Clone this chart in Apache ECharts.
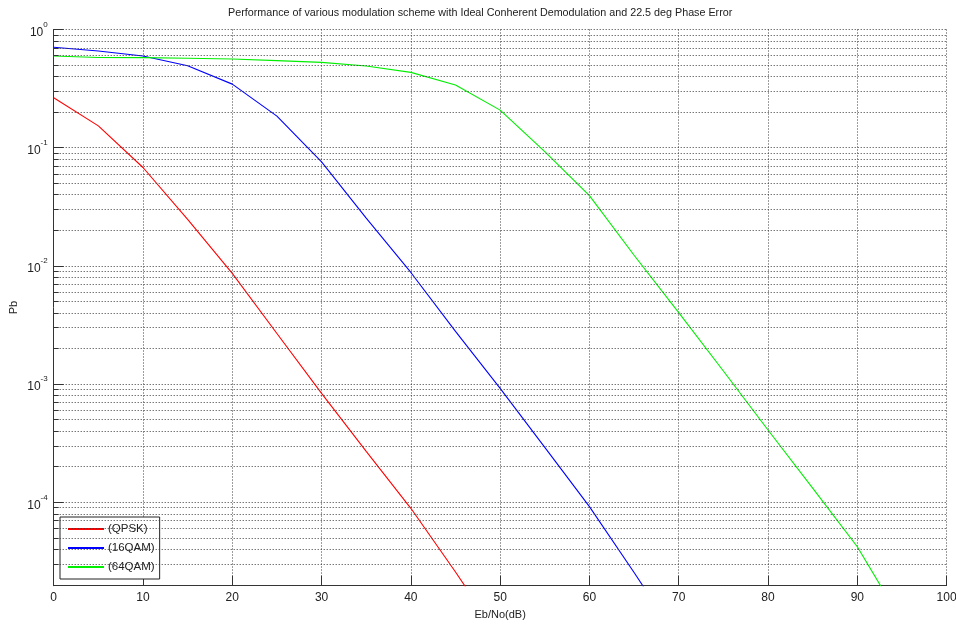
<!DOCTYPE html>
<html><head><meta charset="utf-8">
<script src="https://cdn.jsdelivr.net/npm/echarts@6/dist/echarts.min.js"></script>
<style>html,body{margin:0;padding:0;background:#fff}#c{width:956px;height:626px}</style>
</head><body><div id="c"></div>
<script>
const titleText = 'Performance of various modulation scheme with Ideal Conherent Demodulation and 22.5 deg Phase Error';
const ebno = [0,5,10,15,20,25,30,35,40,45,50,55,60,65,70,75,80,85,90,95];
const qpsk = [0.265, 0.153, 0.068, 0.0248, 0.00865, 0.00268, 0.000836, 0.00027, 0.000089, 0.0000257, 0.0000071];
const qam16 = [0.707, 0.658, 0.597, 0.494, 0.345, 0.185, 0.076, 0.0254, 0.0088, 0.00279, 0.00092, 0.000292, 0.000092, 0.0000255, 0.0000068];
const qam64 = [0.597, 0.58, 0.578, 0.572, 0.563, 0.545, 0.527, 0.491, 0.434, 0.339, 0.208, 0.0925, 0.0393, 0.0123, 0.00402, 0.00129, 0.000409, 0.000132, 0.0000421, 0.0000098];
const seriesNames = ['(QPSK)', '(16QAM)', '(64QAM)'];
const seriesColors = ['#ff0000', '#0000ff', '#00ee00'];
const xTicks = [0,10,20,30,40,50,60,70,80,90,100];
const yMin = 1.97e-5, yMax = 1;
const decades = [-5,-4,-3,-2,-1];
const mantissas = [2,3,4,5,6,7,8,9];

const FONT = 'Liberation Sans, Arial, sans-serif';
const minorVals = [];
decades.forEach(d => mantissas.forEach(m => {
  const v = m * Math.pow(10, d);
  if (v > yMin && v < yMax) minorVals.push(v);
}));

function pairs(vals) { return vals.map((v, i) => [ebno[i], v]); }

const chart = echarts.init(document.getElementById('c'), null, {renderer: 'canvas'});
const dotted = {color: '#3a3a3a', width: 1, type: [1, 2]};

chart.setOption({
  animation: false,
  backgroundColor: '#fff',
  textStyle: {fontFamily: FONT},
  title: {
    text: titleText, left: 228, top: 8, padding: 0,
    textStyle: {fontSize: 10.75, fontWeight: 'normal', color: '#222', fontFamily: FONT}
  },
  grid: {left: 53.7, right: 9.4, top: 29.5, bottom: 40.3, containLabel: false, outerBoundsMode: 'none'},
  legend: {
    orient: 'vertical', left: 60, top: 517, itemWidth: 36, itemHeight: 14, itemGap: 7,
    padding: [6, 5, 6, 7], borderColor: '#222', borderWidth: 1, backgroundColor: '#fff',
    selectedMode: false,
    itemStyle: {opacity: 0},
    textStyle: {fontSize: 11.5, color: '#222', fontFamily: FONT, padding: [0, 0, 0, -1]},
    data: seriesNames
  },
  xAxis: {
    type: 'value', min: 0, max: 100, interval: 10,
    name: 'Eb/No(dB)', nameLocation: 'middle', nameGap: 24, nameMoveOverlap: false,
    nameTextStyle: {fontSize: 11, color: '#222', fontFamily: FONT},
    axisLine: {lineStyle: {color: '#333', width: 1}},
    axisTick: {inside: true, length: 10, lineStyle: {color: '#333'}},
    axisLabel: {fontSize: 12, color: '#222', margin: 6, fontFamily: FONT,
      formatter: v => xTicks.includes(v) ? String(v) : ''},
    splitLine: {show: true, lineStyle: dotted}
  },
  yAxis: {
    type: 'log', logBase: 10, min: yMin, max: yMax,
    name: 'Pb', nameLocation: 'middle', nameGap: 34, nameRotate: 90, nameMoveOverlap: false,
    nameTextStyle: {fontSize: 11, color: '#222', fontFamily: FONT},
    axisLine: {show: true, lineStyle: {color: '#333', width: 1}},
    axisTick: {show: true, inside: true, length: 10, lineStyle: {color: '#333'}},
    axisLabel: {
      margin: 6, color: '#222', fontFamily: FONT,
      formatter: function (v) {
        const l = Math.log10(v), e = Math.round(l);
        if (Math.abs(l - e) > 1e-6) return '';
        return '{b|10}{s|' + e + '}';
      },
      rich: {
        b: {fontSize: 12, color: '#222', lineHeight: 18, verticalAlign: 'bottom', fontFamily: FONT},
        s: {fontSize: 8, color: '#222', lineHeight: 18, verticalAlign: 'top', fontFamily: FONT}
      }
    },
    splitLine: {show: true, lineStyle: dotted}
  },
  series: [
    {
      name: '_grid', type: 'line', data: [], silent: true, z: 1,
      markLine: {
        silent: true, symbol: 'none', animation: false,
        label: {show: false},
        emphasis: {disabled: true},
        data: minorVals.map(v => [
            {coord: [0, v], lineStyle: dotted},
            {coord: [100, v]}
          ])
          .concat(minorVals.map(v => [
            {coord: [0, v], lineStyle: {color: '#333', width: 1, type: 'solid'}},
            {coord: [0.56, v]}
          ]))
      }
    },
    ...[qpsk, qam16, qam64].map((vals, i) => ({
      name: seriesNames[i], type: 'line', data: pairs(vals),
      symbol: 'none', showSymbol: false, clip: true, z: 3,
      color: seriesColors[i],
      lineStyle: {color: seriesColors[i], width: 1.1}
    }))
  ]
});
</script>
</body></html>
